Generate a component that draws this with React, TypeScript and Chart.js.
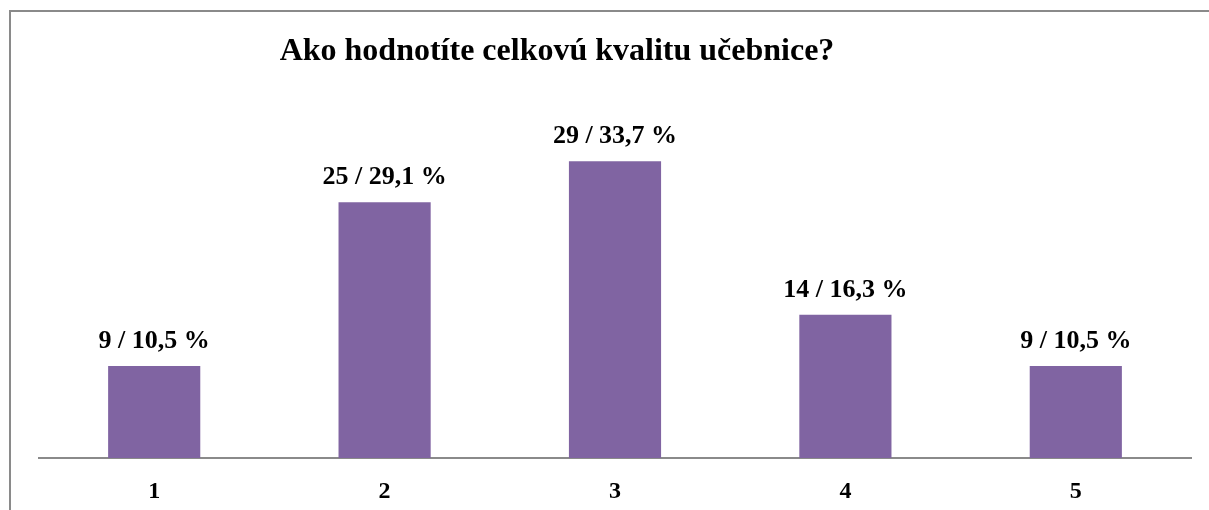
import React, { useEffect, useRef } from "react";
import { Chart, registerables } from "chart.js";

Chart.register(...registerables);

const categories = ["1", "2", "3", "4", "5"];
const counts = [9, 25, 29, 14, 9];
const percents = ["10,5", "29,1", "33,7", "16,3", "10,5"];
const titleText = "Ako hodnotíte celkovú kvalitu učebnice?";

const framePlugin = {
  id: "frame",
  beforeDraw(chart: any) {
    const ctx = chart.ctx;
    ctx.save();
    ctx.fillStyle = "#ffffff";
    ctx.fillRect(0, 0, chart.width, chart.height);
    ctx.strokeStyle = "#8a8a8a";
    ctx.lineWidth = 2;
    ctx.beginPath();
    ctx.moveTo(10, chart.height);
    ctx.lineTo(10, 11);
    ctx.lineTo(chart.width, 11);
    ctx.stroke();
    ctx.restore();
  },
};

const labelsPlugin = {
  id: "labelsAndTitle",
  afterDatasetsDraw(chart: any) {
    const ctx = chart.ctx;
    ctx.save();
    ctx.fillStyle = "#000000";
    ctx.textAlign = "center";
    ctx.textBaseline = "alphabetic";
    ctx.font = "bold 32px 'Liberation Serif', 'Times New Roman', serif";
    ctx.fillText(titleText, 557, 60);
    ctx.font = "bold 26px 'Liberation Serif', 'Times New Roman', serif";
    const meta = chart.getDatasetMeta(0);
    meta.data.forEach((bar: any, i: number) => {
      ctx.fillText(`${counts[i]} / ${percents[i]} %`, bar.x, bar.y - 18);
    });
    ctx.restore();
  },
};

export default function App() {
  const ref = useRef<HTMLCanvasElement | null>(null);
  useEffect(() => {
    if (!ref.current) return;
    const chart = new Chart(ref.current, {
      type: "bar",
      data: {
        labels: categories,
        datasets: [
          {
            data: counts,
            backgroundColor: "#8064A2",
            borderWidth: 0,
            categoryPercentage: 1,
            barPercentage: 0.4,
          },
        ],
      },
      options: {
        animation: false,
        responsive: false,
        maintainAspectRatio: false,
        layout: { padding: { left: 39, right: 18, top: 100, bottom: 0 } },
        plugins: {
          legend: { display: false },
          title: { display: false },
          tooltip: { enabled: false },
        },
        scales: {
          x: {
            grid: { display: false, drawTicks: false },
            border: { display: true, color: "#8a8a8a", width: 2 },
            ticks: {
              color: "#000000",
              padding: 19,
              font: { family: "'Liberation Serif', 'Times New Roman', serif", size: 24, weight: "bold" },
            },
            afterFit(scale: any) {
              scale.height = 52;
            },
          },
          y: {
            display: false,
            min: 0,
            max: 35,
          },
        },
      },
      plugins: [framePlugin, labelsPlugin],
    });
    return () => chart.destroy();
  }, []);
  return (
    <div style={{ position: "absolute", left: 0, top: 0, width: 1209, height: 510 }}>
      <canvas ref={ref} width={1209} height={510} style={{ width: 1209, height: 510 }} />
    </div>
  );
}
